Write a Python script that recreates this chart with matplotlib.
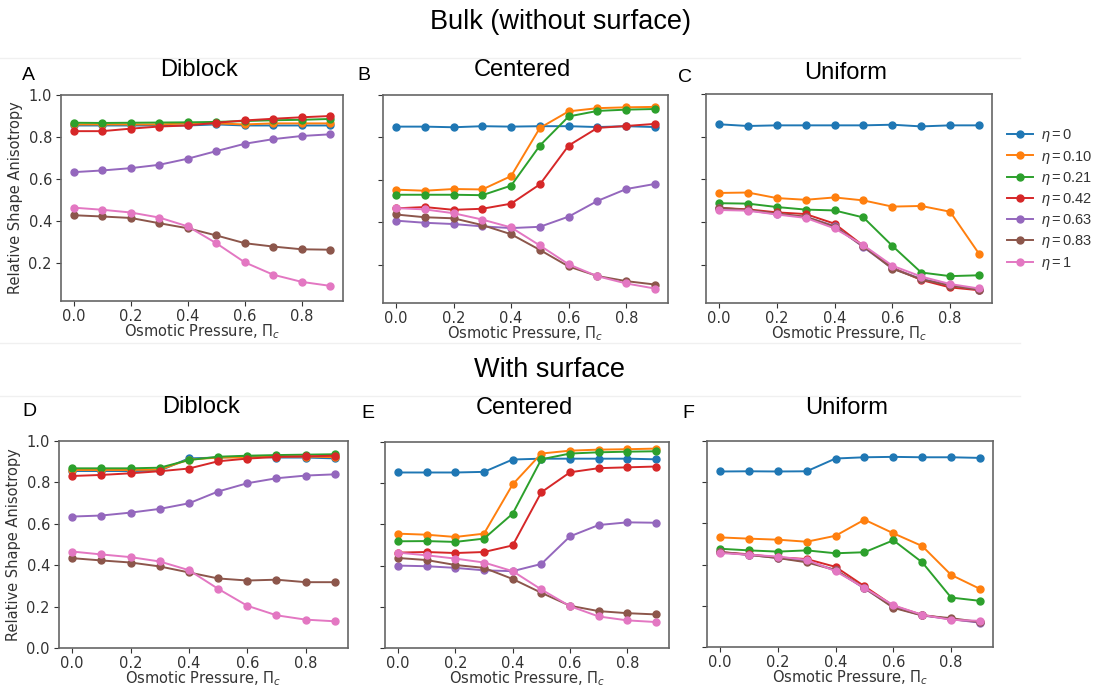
import matplotlib
matplotlib.use("Agg")
import matplotlib.pyplot as plt
from matplotlib.lines import Line2D

plt.rcParams["mathtext.rm"] = "Liberation Sans"
plt.rcParams["mathtext.it"] = "Liberation Sans:italic"
plt.rcParams["mathtext.bf"] = "Liberation Sans:bold"

W, H = 1099, 689

pi_c = [0.0, 0.1, 0.2, 0.3, 0.4, 0.5, 0.6, 0.7, 0.8, 0.9]
eta_labels = [r"$\eta = 0$", r"$\eta = 0.10$", r"$\eta = 0.21$", r"$\eta = 0.42$",
              r"$\eta = 0.63$", r"$\eta = 0.83$", r"$\eta = 1$"]
colors = ["#1f77b4", "#ff7f0e", "#2ca02c", "#d62728", "#9467bd", "#8c564b", "#e377c2"]

# Panel A: Bulk, Diblock
A_eta0 = [0.855, 0.855, 0.855, 0.855, 0.855, 0.860, 0.855, 0.855, 0.855, 0.855]
A_eta010 = [0.860, 0.860, 0.860, 0.860, 0.865, 0.865, 0.860, 0.865, 0.865, 0.865]
A_eta021 = [0.868, 0.867, 0.868, 0.869, 0.870, 0.872, 0.876, 0.880, 0.882, 0.886]
A_eta042 = [0.828, 0.828, 0.840, 0.850, 0.855, 0.868, 0.879, 0.887, 0.894, 0.900]
A_eta063 = [0.633, 0.641, 0.652, 0.668, 0.697, 0.733, 0.768, 0.790, 0.805, 0.813]
A_eta083 = [0.428, 0.422, 0.415, 0.390, 0.366, 0.332, 0.295, 0.279, 0.266, 0.264]
A_eta1 = [0.464, 0.454, 0.441, 0.417, 0.375, 0.295, 0.204, 0.145, 0.111, 0.092]

# Panel B: Bulk, Centered
B_eta0 = [0.851, 0.851, 0.848, 0.853, 0.851, 0.853, 0.853, 0.849, 0.853, 0.849]
B_eta010 = [0.554, 0.549, 0.557, 0.555, 0.618, 0.845, 0.923, 0.938, 0.942, 0.944]
B_eta021 = [0.530, 0.530, 0.530, 0.528, 0.573, 0.762, 0.899, 0.925, 0.931, 0.934]
B_eta042 = [0.466, 0.472, 0.459, 0.464, 0.488, 0.579, 0.762, 0.845, 0.854, 0.864]
B_eta063 = [0.408, 0.398, 0.392, 0.381, 0.373, 0.379, 0.427, 0.501, 0.557, 0.581]
B_eta083 = [0.437, 0.424, 0.419, 0.387, 0.344, 0.270, 0.192, 0.147, 0.123, 0.107]
B_eta1 = [0.467, 0.461, 0.443, 0.413, 0.376, 0.291, 0.202, 0.146, 0.112, 0.088]

# Panel C: Bulk, Uniform
C_eta0 = [0.858, 0.850, 0.853, 0.853, 0.853, 0.853, 0.856, 0.848, 0.853, 0.853]
C_eta010 = [0.536, 0.538, 0.512, 0.504, 0.515, 0.501, 0.472, 0.475, 0.448, 0.251]
C_eta021 = [0.488, 0.486, 0.470, 0.458, 0.454, 0.421, 0.288, 0.163, 0.146, 0.150]
C_eta042 = [0.466, 0.459, 0.445, 0.437, 0.392, 0.288, 0.186, 0.128, 0.093, 0.080]
C_eta063 = [0.464, 0.454, 0.437, 0.424, 0.381, 0.282, 0.182, 0.133, 0.104, 0.083]
C_eta083 = [0.467, 0.456, 0.440, 0.424, 0.378, 0.285, 0.181, 0.131, 0.102, 0.082]
C_eta1 = [0.456, 0.453, 0.435, 0.419, 0.370, 0.291, 0.195, 0.144, 0.109, 0.088]

# Panel D: With surface, Diblock
D_eta0 = [0.855, 0.855, 0.855, 0.857, 0.916, 0.920, 0.925, 0.920, 0.920, 0.916]
D_eta010 = [0.860, 0.860, 0.860, 0.862, 0.910, 0.920, 0.920, 0.925, 0.925, 0.922]
D_eta021 = [0.868, 0.868, 0.868, 0.871, 0.908, 0.924, 0.929, 0.932, 0.934, 0.936]
D_eta042 = [0.831, 0.836, 0.844, 0.854, 0.867, 0.902, 0.915, 0.923, 0.926, 0.929]
D_eta063 = [0.635, 0.640, 0.654, 0.672, 0.699, 0.756, 0.796, 0.820, 0.833, 0.839]
D_eta083 = [0.434, 0.423, 0.413, 0.394, 0.365, 0.336, 0.326, 0.330, 0.318, 0.318]
D_eta1 = [0.466, 0.452, 0.439, 0.418, 0.376, 0.286, 0.204, 0.158, 0.137, 0.129]

# Panel E: With surface, Centered
E_eta0 = [0.852, 0.852, 0.852, 0.855, 0.915, 0.919, 0.919, 0.919, 0.919, 0.916]
E_eta010 = [0.555, 0.550, 0.539, 0.555, 0.794, 0.944, 0.958, 0.963, 0.965, 0.968]
E_eta021 = [0.518, 0.519, 0.515, 0.531, 0.652, 0.916, 0.944, 0.950, 0.953, 0.955]
E_eta042 = [0.463, 0.466, 0.461, 0.466, 0.498, 0.756, 0.853, 0.873, 0.877, 0.881]
E_eta063 = [0.400, 0.397, 0.389, 0.377, 0.373, 0.408, 0.542, 0.597, 0.610, 0.608]
E_eta083 = [0.437, 0.427, 0.403, 0.389, 0.335, 0.268, 0.205, 0.179, 0.169, 0.163]
E_eta1 = [0.463, 0.450, 0.434, 0.415, 0.373, 0.284, 0.203, 0.153, 0.134, 0.126]

# Panel F: With surface, Uniform
F_eta0 = [0.852, 0.853, 0.852, 0.853, 0.915, 0.921, 0.923, 0.921, 0.921, 0.918]
F_eta010 = [0.532, 0.526, 0.521, 0.511, 0.540, 0.618, 0.552, 0.490, 0.350, 0.282]
F_eta021 = [0.477, 0.469, 0.463, 0.469, 0.455, 0.460, 0.518, 0.411, 0.240, 0.224]
F_eta042 = [0.461, 0.450, 0.435, 0.427, 0.389, 0.295, 0.200, 0.156, 0.135, 0.121]
F_eta063 = [0.460, 0.447, 0.432, 0.416, 0.374, 0.284, 0.194, 0.153, 0.135, 0.118]
F_eta083 = [0.461, 0.447, 0.432, 0.411, 0.373, 0.287, 0.190, 0.153, 0.140, 0.121]
F_eta1 = [0.456, 0.448, 0.439, 0.423, 0.368, 0.287, 0.203, 0.156, 0.132, 0.127]

panels = {
    "A": [A_eta0, A_eta010, A_eta021, A_eta042, A_eta063, A_eta083, A_eta1],
    "B": [B_eta0, B_eta010, B_eta021, B_eta042, B_eta063, B_eta083, B_eta1],
    "C": [C_eta0, C_eta010, C_eta021, C_eta042, C_eta063, C_eta083, C_eta1],
    "D": [D_eta0, D_eta010, D_eta021, D_eta042, D_eta063, D_eta083, D_eta1],
    "E": [E_eta0, E_eta010, E_eta021, E_eta042, E_eta063, E_eta083, E_eta1],
    "F": [F_eta0, F_eta010, F_eta021, F_eta042, F_eta063, F_eta083, F_eta1],
}
panel_titles = {"A": "Diblock", "B": "Centered", "C": "Uniform",
                "D": "Diblock", "E": "Centered", "F": "Uniform"}

# layout in pixels: (left, right, top, bottom)
boxes = {
    "A": (61, 343, 95, 301),
    "B": (383, 668, 95, 303),
    "C": (706, 992, 94, 303),
    "D": (59, 348, 441, 648),
    "E": (385, 669, 442, 648),
    "F": (707, 993, 441, 647),
}
letter_pos = {"A": (22, 75), "B": (357, 75), "C": (678, 78),
              "D": (22, 412), "E": (361, 413), "F": (682, 413)}

fig = plt.figure(figsize=(W / 100, H / 100), dpi=100)
fig.patch.set_facecolor("white")

def fx(px):
    return px / W

def fy(py):
    return 1 - py / H

title_font = ["Liberation Sans", "DejaVu Sans"]
txt_col = "#333333"

for key, series in panels.items():
    l, r, t, b = boxes[key]
    ax = fig.add_axes([fx(l), fy(b), fx(r - l), (b - t) / H])
    for vals, c, lab in zip(series, colors, eta_labels):
        ax.plot(pi_c, vals, color=c, marker="o", markersize=5, linewidth=1.4, label=lab)
    if key in "ABC":
        ax.set_ylim(0.02, 1.0)
        ax.set_yticks([0.2, 0.4, 0.6, 0.8, 1.0])
    else:
        ax.set_ylim(0.0, 1.0)
        ax.set_yticks([0.0, 0.2, 0.4, 0.6, 0.8, 1.0])
    ax.set_xlim(-0.045, 0.945)
    ax.set_xticks([0.0, 0.2, 0.4, 0.6, 0.8])
    ax.tick_params(labelsize=10.5, colors=txt_col, length=3.5, pad=2)
    ax.tick_params(axis="y", pad=3)
    for s in ax.spines.values():
        s.set_color("#666666")
        s.set_linewidth(1.2)
    ax.set_xlabel(r"Osmotic Pressure, $\Pi_c$", fontsize=10.5, color=txt_col, labelpad=-1)
    if key in "AD":
        ax.set_ylabel("Relative Shape Anisotropy", fontsize=10.5, color=txt_col, labelpad=4)
    else:
        ax.set_yticklabels([])
    # panel title
    fig.text(fx((l + r) / 2 - 3), fy(letter_pos[key][1] - 5), panel_titles[key],
             ha="center", va="center", fontsize=17, family=title_font)
    fig.text(fx(letter_pos[key][0]), fy(letter_pos[key][1]), key,
             ha="left", va="center", fontsize=14, family=title_font)
    if key == "C":
        leg = fig.legend(handles=ax.get_lines(), labels=eta_labels,
                         loc="center left", bbox_to_anchor=(fx(1007), fy(199.5)),
                         prop=dict(family="Liberation Sans", size=10.5, math_fontfamily="custom"),
                         frameon=False, handlelength=1.8, handletextpad=0.55,
                         borderpad=0, borderaxespad=0, labelspacing=0.29)
        for txt in leg.get_texts():
            txt.set_color(txt_col)

fig.text(fx(561), fy(22), "Bulk (without surface)", ha="center", va="center",
         fontsize=19.5, family=title_font)
fig.text(fx(549), fy(370), "With surface", ha="center", va="center",
         fontsize=19.5, family=title_font)

# faint panel separators from the composite
for (x0, x1, yy) in [(0, 1020, 58), (0, 1020, 343), (0, 1020, 396)]:
    fig.add_artist(Line2D([fx(x0), fx(x1)], [fy(yy), fy(yy)], color="#f0f0f0", linewidth=1))

fig.savefig("out.png", dpi=100, facecolor="white")
